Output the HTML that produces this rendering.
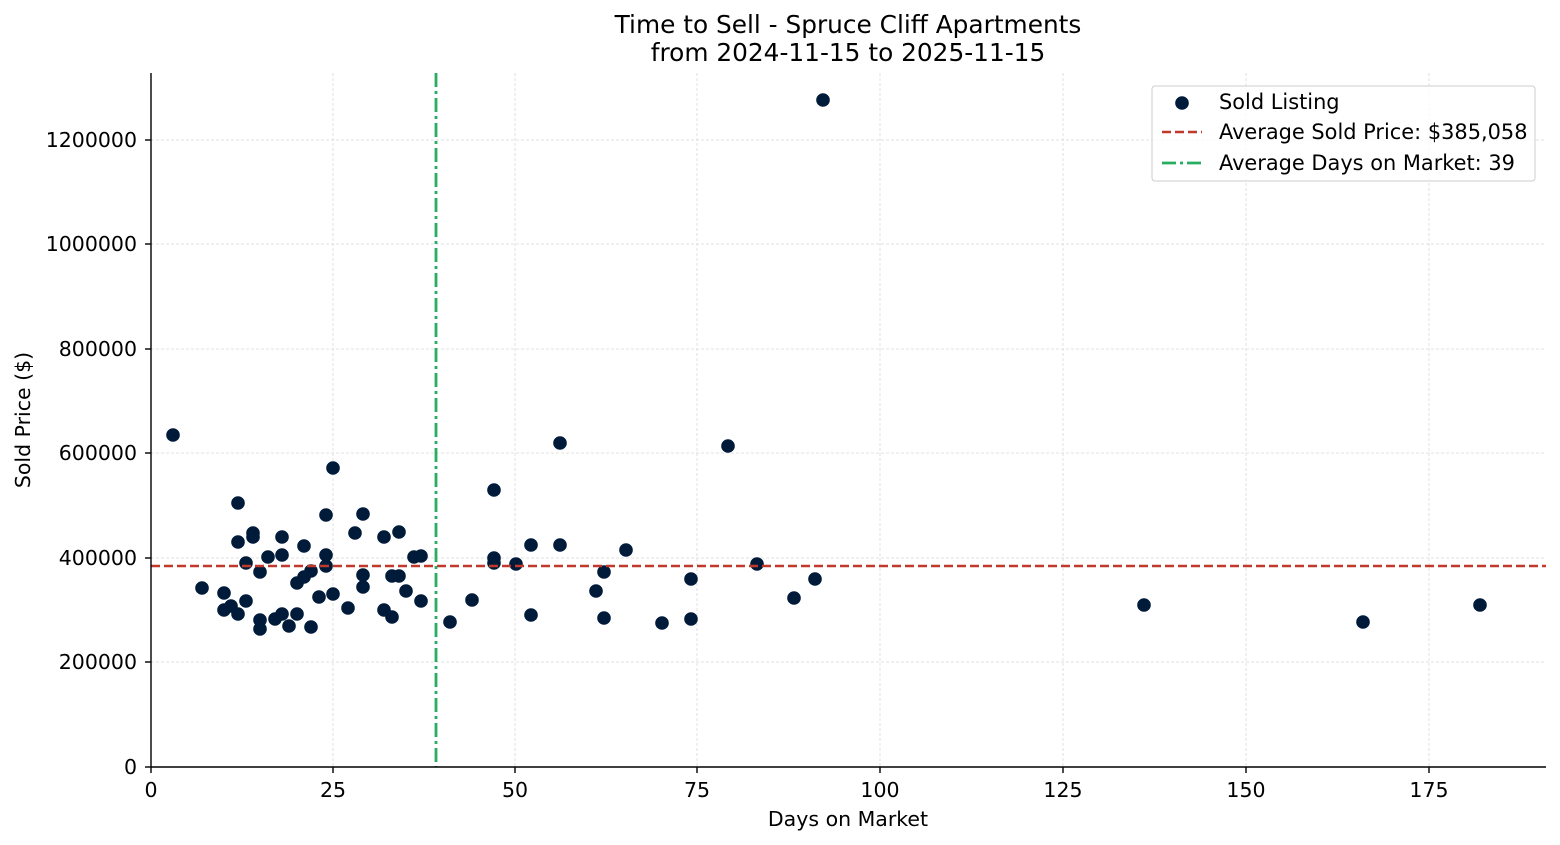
<!DOCTYPE html>
<html><head><meta charset="utf-8"><style>body{margin:0;background:#fff}svg{display:block;font-family:"DejaVu Sans","Liberation Sans",sans-serif}</style></head><body>
<svg width="1560" height="845" viewBox="0 0 1560 845">
<g stroke="#d9d9d9" stroke-width="0.8" stroke-dasharray="3,2">
<line x1="333" y1="73" x2="333" y2="767"/><line x1="515" y1="73" x2="515" y2="767"/><line x1="697" y1="73" x2="697" y2="767"/><line x1="880" y1="73" x2="880" y2="767"/><line x1="1063" y1="73" x2="1063" y2="767"/><line x1="1246" y1="73" x2="1246" y2="767"/><line x1="1429" y1="73" x2="1429" y2="767"/>
<line x1="151" y1="662" x2="1546" y2="662"/><line x1="151" y1="558" x2="1546" y2="558"/><line x1="151" y1="453" x2="1546" y2="453"/><line x1="151" y1="349" x2="1546" y2="349"/><line x1="151" y1="244" x2="1546" y2="244"/><line x1="151" y1="140" x2="1546" y2="140"/>
</g>
<g fill="#001a3a">
<circle cx="173" cy="435" r="6.8"/><circle cx="202" cy="588" r="6.8"/><circle cx="224" cy="593" r="6.8"/><circle cx="224" cy="610" r="6.8"/><circle cx="231" cy="606" r="6.8"/><circle cx="238" cy="503" r="6.8"/><circle cx="238" cy="542" r="6.8"/><circle cx="238" cy="614" r="6.8"/><circle cx="246" cy="563" r="6.8"/><circle cx="246" cy="601" r="6.8"/><circle cx="253" cy="533" r="6.8"/><circle cx="253" cy="537" r="6.8"/><circle cx="260" cy="572" r="6.8"/><circle cx="260" cy="620" r="6.8"/><circle cx="260" cy="629" r="6.8"/><circle cx="268" cy="557" r="6.8"/><circle cx="275" cy="619" r="6.8"/><circle cx="282" cy="537" r="6.8"/><circle cx="282" cy="555" r="6.8"/><circle cx="282" cy="614" r="6.8"/><circle cx="289" cy="626" r="6.8"/><circle cx="297" cy="583" r="6.8"/><circle cx="297" cy="614" r="6.8"/><circle cx="304" cy="546" r="6.8"/><circle cx="304" cy="577" r="6.8"/><circle cx="311" cy="571" r="6.8"/><circle cx="311" cy="627" r="6.8"/><circle cx="319" cy="597" r="6.8"/><circle cx="326" cy="515" r="6.8"/><circle cx="326" cy="555" r="6.8"/><circle cx="326" cy="566" r="6.8"/><circle cx="333" cy="468" r="6.8"/><circle cx="333" cy="594" r="6.8"/><circle cx="348" cy="608" r="6.8"/><circle cx="355" cy="533" r="6.8"/><circle cx="363" cy="514" r="6.8"/><circle cx="363" cy="575" r="6.8"/><circle cx="363" cy="587" r="6.8"/><circle cx="384" cy="537" r="6.8"/><circle cx="384" cy="610" r="6.8"/><circle cx="392" cy="576" r="6.8"/><circle cx="392" cy="617" r="6.8"/><circle cx="399" cy="532" r="6.8"/><circle cx="399" cy="576" r="6.8"/><circle cx="406" cy="591" r="6.8"/><circle cx="414" cy="557" r="6.8"/><circle cx="421" cy="556" r="6.8"/><circle cx="421" cy="601" r="6.8"/><circle cx="450" cy="622" r="6.8"/><circle cx="472" cy="600" r="6.8"/><circle cx="494" cy="490" r="6.8"/><circle cx="494" cy="558" r="6.8"/><circle cx="494" cy="563" r="6.8"/><circle cx="516" cy="564" r="6.8"/><circle cx="531" cy="545" r="6.8"/><circle cx="531" cy="615" r="6.8"/><circle cx="560" cy="443" r="6.8"/><circle cx="560" cy="545" r="6.8"/><circle cx="596" cy="591" r="6.8"/><circle cx="604" cy="572" r="6.8"/><circle cx="604" cy="618" r="6.8"/><circle cx="626" cy="550" r="6.8"/><circle cx="662" cy="623" r="6.8"/><circle cx="691" cy="579" r="6.8"/><circle cx="691" cy="619" r="6.8"/><circle cx="728" cy="446" r="6.8"/><circle cx="757" cy="564" r="6.8"/><circle cx="794" cy="598" r="6.8"/><circle cx="815" cy="579" r="6.8"/><circle cx="823" cy="100" r="6.8"/><circle cx="1144" cy="605" r="6.8"/><circle cx="1363" cy="622" r="6.8"/><circle cx="1480" cy="605" r="6.8"/>
</g>
<line x1="151" y1="566" x2="1546" y2="566" stroke="#c0392b" stroke-width="2.6" stroke-dasharray="9,4"/>
<line x1="436" y1="73" x2="436" y2="767" stroke="#27ae60" stroke-width="2.8" stroke-dasharray="14,4,3,4"/>
<g stroke="#000" stroke-width="1.4">
<line x1="151" y1="73" x2="151" y2="767"/><line x1="151" y1="767" x2="1546" y2="767"/>
<line x1="151" y1="767" x2="151" y2="773"/><line x1="333" y1="767" x2="333" y2="773"/><line x1="515" y1="767" x2="515" y2="773"/><line x1="697" y1="767" x2="697" y2="773"/><line x1="880" y1="767" x2="880" y2="773"/><line x1="1063" y1="767" x2="1063" y2="773"/><line x1="1246" y1="767" x2="1246" y2="773"/><line x1="1429" y1="767" x2="1429" y2="773"/>
<line x1="145" y1="767" x2="151" y2="767"/><line x1="145" y1="662" x2="151" y2="662"/><line x1="145" y1="558" x2="151" y2="558"/><line x1="145" y1="453" x2="151" y2="453"/><line x1="145" y1="349" x2="151" y2="349"/><line x1="145" y1="244" x2="151" y2="244"/><line x1="145" y1="140" x2="151" y2="140"/>
</g>
<g font-size="20.5" fill="#000" text-anchor="middle">
<text x="151" y="797">0</text><text x="333" y="797">25</text><text x="515" y="797">50</text><text x="697" y="797">75</text><text x="880" y="797">100</text><text x="1063" y="797">125</text><text x="1246" y="797">150</text><text x="1429" y="797">175</text>
<text x="848" y="826">Days on Market</text>
<text x="848" y="33" font-size="24.8">Time to Sell - Spruce Cliff Apartments</text>
<text x="848" y="61" font-size="24.8">from 2024-11-15 to 2025-11-15</text>
<text transform="translate(30,420) rotate(-90)">Sold Price ($)</text>
</g>
<g font-size="20.5" fill="#000" text-anchor="end">
<text x="137" y="774">0</text><text x="137" y="669">200000</text><text x="137" y="565">400000</text><text x="137" y="460">600000</text><text x="137" y="356">800000</text><text x="137" y="251">1000000</text><text x="137" y="147">1200000</text>
</g>
<rect x="1152" y="86" width="383" height="95" rx="3" fill="#fff" fill-opacity="0.8" stroke="#ccc"/>
<circle cx="1182" cy="103" r="6.8" fill="#001a3a"/>
<line x1="1162" y1="132" x2="1202" y2="132" stroke="#c0392b" stroke-width="2.6" stroke-dasharray="9,4"/>
<line x1="1162" y1="163" x2="1202" y2="163" stroke="#27ae60" stroke-width="2.8" stroke-dasharray="14,4,3,4"/>
<g font-size="20.9" fill="#000">
<text x="1219" y="109">Sold Listing</text><text x="1219" y="139">Average Sold Price: $385,058</text><text x="1219" y="170">Average Days on Market: 39</text>
</g>
</svg>
</body></html>
